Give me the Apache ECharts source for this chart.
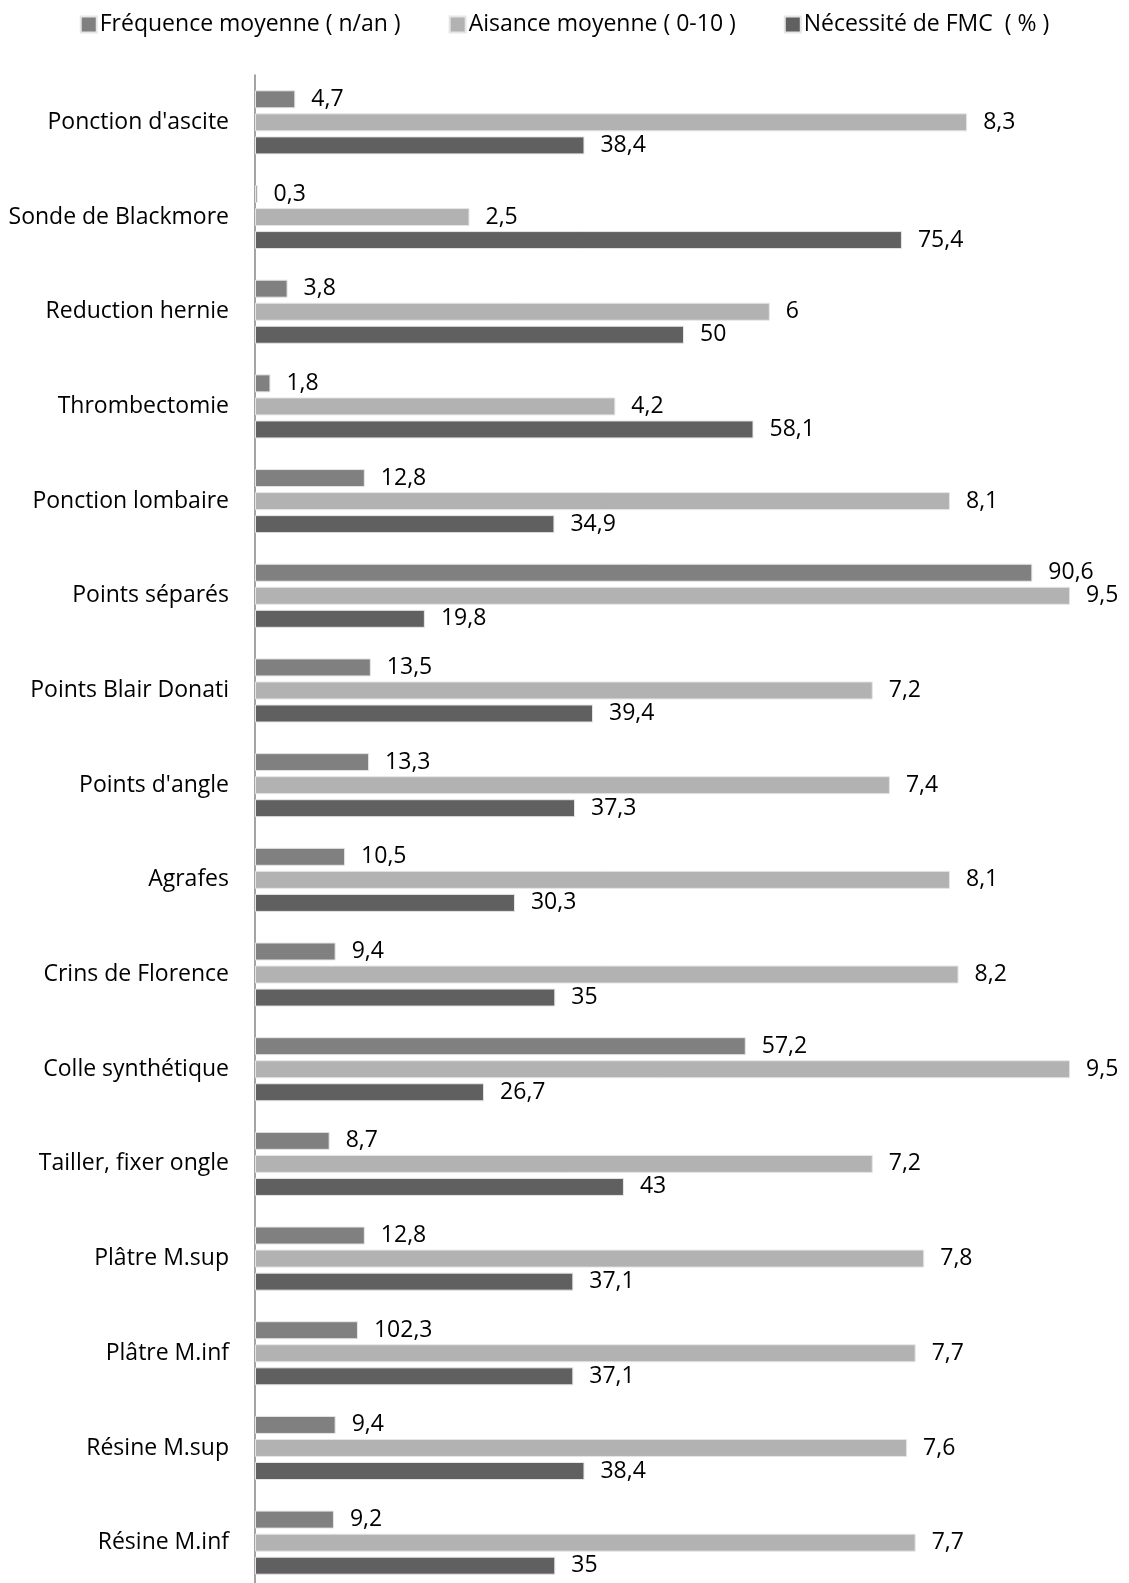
<!DOCTYPE html>
<html>
<head>
<meta charset="utf-8">
<script src="https://cdn.jsdelivr.net/npm/echarts@6/dist/echarts.min.js"></script>
<style>
  html, body { margin: 0; padding: 0; background: #fff; }
  #chart { width: 1129px; height: 1583px; }
</style>
</head>
<body>
<div id="chart"></div>
<script>
var chart = echarts.init(document.getElementById("chart"));

var categories = [
    "Ponction d'ascite", "Sonde de Blackmore", "Reduction hernie", "Thrombectomie",
    "Ponction lombaire", "Points séparés", "Points Blair Donati", "Points d'angle",
    "Agrafes", "Crins de Florence", "Colle synthétique", "Tailler, fixer ongle",
    "Plâtre M.sup", "Plâtre M.inf", "Résine M.sup", "Résine M.inf"
];
var seriesNames = ["Fréquence moyenne ( n/an )", "Aisance moyenne ( 0-10 )", "Nécessité de FMC  ( % )"];

// bar lengths as drawn (the 102,3 bar is drawn at ~12 in the source)
var freqBars   = [4.7, 0.3, 3.8, 1.8, 12.8, 90.6, 13.5, 13.3, 10.5, 9.4, 57.2, 8.7, 12.8, 12.0, 9.4, 9.2];
var freqLabels = ["4,7", "0,3", "3,8", "1,8", "12,8", "90,6", "13,5", "13,3", "10,5", "9,4", "57,2", "8,7", "12,8", "102,3", "9,4", "9,2"];
var aisance    = [8.3, 2.5, 6, 4.2, 8.1, 9.5, 7.2, 7.4, 8.1, 8.2, 9.5, 7.2, 7.8, 7.7, 7.6, 7.7];
var fmc        = [38.4, 75.4, 50, 58.1, 34.9, 19.8, 39.4, 37.3, 30.3, 35, 26.7, 43, 37.1, 37.1, 38.4, 35];

var colors = ["#808080", "#b2b2b2", "#606060"];
var FONT = "Open Sans";

function fmt(v) {
    return String(v).replace(".", ",");
}

var labelStyle = {
    show: true,
    position: "right",
    distance: 16,
    fontFamily: FONT,
    fontSize: 23,
    color: "#000"
};

function makeSeries(i, data, axisIndex, labels) {
    return {
        name: seriesNames[i],
        type: "bar",
        xAxisIndex: axisIndex,
        barWidth: 18,
        barGap: "28%",
        itemStyle: { color: colors[i], borderColor: "#e6e6e6", borderWidth: 1 },
        label: Object.assign({}, labelStyle, {
            formatter: function (p) {
                return labels ? labels[p.dataIndex] : fmt(p.value);
            }
        }),
        data: data
    };
}

var option = {
    backgroundColor: "#fff",
    animation: false,
    legend: {
        top: 8,
        left: "center",
        itemWidth: 16,
        itemHeight: 16,
        itemGap: 48,
        icon: "rect",
        textStyle: { fontFamily: FONT, fontSize: 23, color: "#000", padding: [0, 0, 0, -2] },
        data: seriesNames
    },
    grid: {
        left: 255,
        top: 75,
        width: 858,
        height: 1515,
        outerBoundsMode: "none",
        containLabel: false
    },
    xAxis: [
        { type: "value", min: 0, max: 100, show: false },
        { type: "value", min: 0, max: 10, show: false }
    ],
    yAxis: {
        type: "category",
        inverse: true,
        data: categories,
        axisLine: { show: true, lineStyle: { color: "#868686", width: 1.5 } },
        axisTick: { show: false },
        axisLabel: { fontFamily: FONT, fontSize: 23, color: "#000", margin: 26 },
        splitLine: { show: false }
    },
    series: [
        makeSeries(0, freqBars, 0, freqLabels),
        makeSeries(1, aisance, 1, null),
        makeSeries(2, fmc, 0, null)
    ]
};

chart.setOption(option);
</script>
</body>
</html>
